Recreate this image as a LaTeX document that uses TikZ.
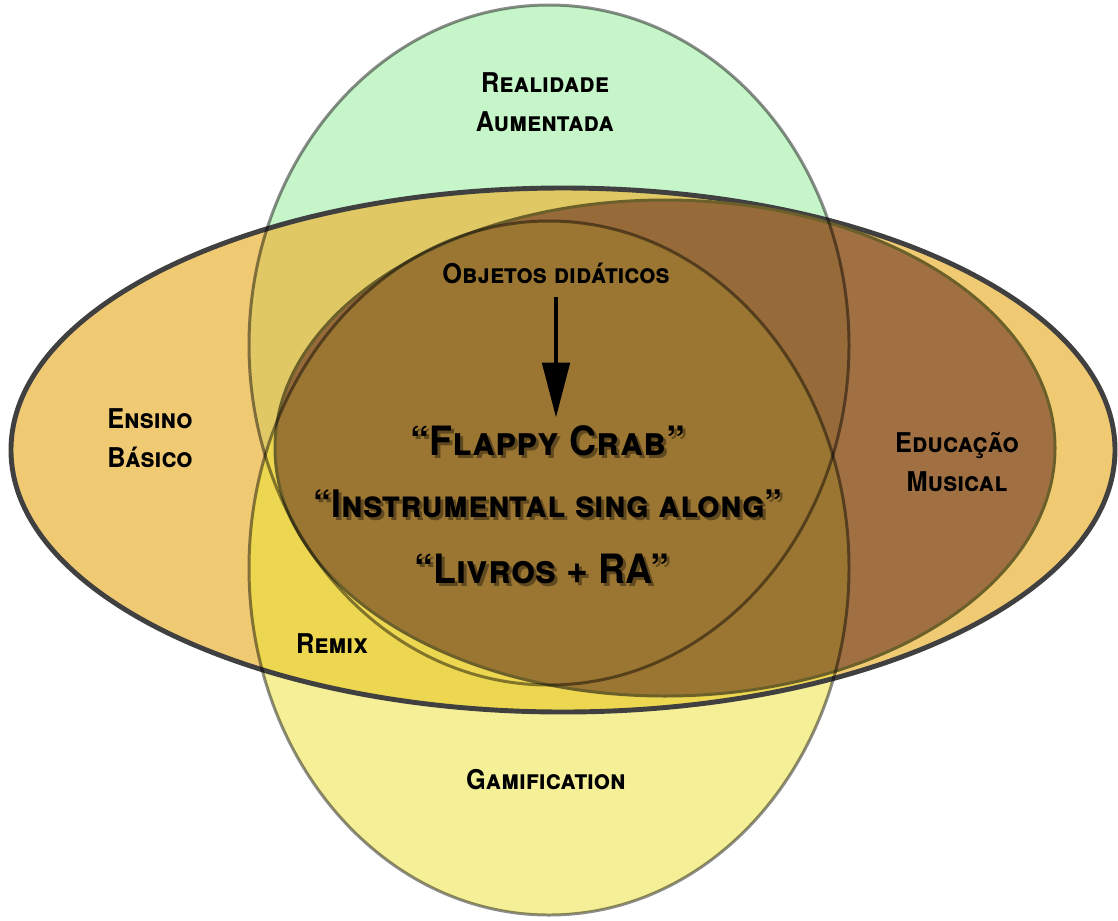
\documentclass[tikz,border=0pt]{standalone}
\usepackage{fontspec}
\setmainfont{TeX Gyre Heros}
\newfontfamily\vennfont{TeX Gyre Heros}[FakeStretch=0.93]
\usepackage{tikz}
\usetikzlibrary{arrows.meta, positioning}
\definecolor{ramint}{RGB}{197, 245, 200}
\definecolor{gamyellow}{RGB}{245, 240, 152}
\definecolor{ensorange}{RGB}{240, 202, 115}
\definecolor{ensgreen}{RGB}{224, 200, 100}
\definecolor{ensyellow}{RGB}{237, 214, 80}
\definecolor{musbrown}{RGB}{160, 112, 66}
\definecolor{musgreen}{RGB}{151, 106, 58}
\definecolor{muscore}{RGB}{155, 118, 50}
\definecolor{musrim}{RGB}{108, 96, 42}
\newcommand{\realidadepath}{(549,345) ellipse [x radius=300, y radius=340]}
\newcommand{\gamifpath}{(549,568) ellipse [x radius=300, y radius=347]}
\newcommand{\ensinopath}{(563,450) ellipse [x radius=552, y radius=262]}
\newcommand{\musicapath}{(665,448) ellipse [x radius=390, y radius=248]}

\begin{document}
\begin{tikzpicture}[x=0.02cm, y=-0.02cm,
    label/.style={font=\vennfont\fontsize{15.5}{22.5}\selectfont\bfseries\scshape, align=center, inner sep=0pt},
    title/.style={font=\vennfont\fontsize{23}{26}\selectfont\bfseries\scshape, inner sep=0pt, anchor=base},
    smalltitle/.style={title, font=\vennfont\fontsize{21.6}{26}\selectfont\bfseries\scshape},
    ghost/.style={text=black, text opacity=0.38},
    rim/.style={draw=black, draw opacity=0.45, line width=1.7pt},
    pointer/.style={-{Triangle[width=0.54cm, length=1.1cm]}, line width=2.8pt}
]
    \useasboundingbox (0,0) rectangle (1118,920);

    % Fills
    \fill[ramint] \realidadepath;
    \fill[gamyellow] \gamifpath;
    \fill[ensorange] \ensinopath;
    \begin{scope}
        \clip \ensinopath;
        \fill[ensgreen] \realidadepath;
        \fill[ensyellow] \gamifpath;
    \end{scope}
    \fill[musbrown] \musicapath;
    \begin{scope}
        \clip \musicapath;
        \fill[musgreen] \realidadepath;
        \fill[muscore] \gamifpath;
    \end{scope}

    % Outlines
    \draw[black!75, line width=2.8pt] \ensinopath;
    \draw[musrim, line width=1.7pt] \musicapath;
    \draw[rim] \realidadepath;
    \draw[rim] \gamifpath;

    % Sets
    \node[label] (realidade) at (545,102) {Realidade\\Aumentada};
    \node[label] (ensino) at (150,438) {Ensino\\Básico};
    \node[label] (educacao) at (957,462) {Educação\\Musical};
    \node[label] (gamification) at (546,780) {Gamification};
    \node[label] (remix) at (332,644) {Remix};

    % Objects
    \node[label, anchor=base] (objetos) at (556,283) {Objetos didáticos};

    \node[title, ghost] (flappy-s) at (551,458) {“Flappy Crab”};
    \node[smalltitle, ghost] (sing-s) at (551,520) {“Instrumental sing along”};
    \node[title, ghost] (livros-s) at (545,586) {“Livros + RA”};
    \node[title] (flappy) at (548,455) {“Flappy Crab”};
    \node[smalltitle] (sing) at (548,517) {“Instrumental sing along”};
    \node[title] (livros) at (542,583) {“Livros + RA”};

    \draw[pointer, shorten <=0.26cm, shorten >=0.14cm] (objetos.south) -- (objetos.south |- flappy.north);
\end{tikzpicture}
\end{document}
